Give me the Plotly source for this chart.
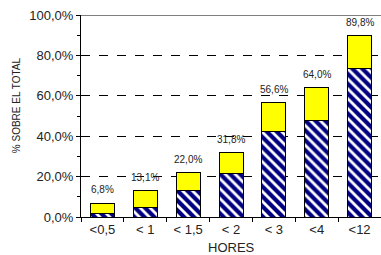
import plotly.graph_objects as go

categories = ["<0,5", "< 1", "< 1,5", "< 2", "< 3", "<4", "<12"]
totals = [6.8, 13.1, 22.0, 31.8, 56.6, 64.0, 89.8]
blue_part = [1.6, 4.6, 13.2, 21.7, 42.4, 47.9, 73.4]
yellow_part = [round(t - b, 1) for t, b in zip(totals, blue_part)]
total_labels = ["6,8%", "13,1%", "22,0%", "31,8%", "56,6%", "64,0%", "89,8%"]
y_tickvals = [0, 20, 40, 60, 80, 100]
y_ticktext = ["0,0%", "20,0%", "40,0%", "60,0%", "80,0%", "100,0%"]

FONT = "Liberation Sans, Arial"
TXT = "#222"

fig = go.Figure()
fig.add_trace(go.Bar(
    x=categories, y=blue_part,
    marker=dict(color="white", line=dict(color="black", width=1),
                pattern=dict(shape="\\", fgcolor="#000080", bgcolor="white", size=7,
                             solidity=0.6, fgopacity=1)),
    width=0.56, hoverinfo="skip",
))
fig.add_trace(go.Bar(
    x=categories, y=yellow_part,
    marker=dict(color="#FFFF00", line=dict(color="black", width=1)),
    width=0.56, hoverinfo="skip",
))

for c, t, lab in zip(categories, totals, total_labels):
    fig.add_annotation(x=c, y=t, text=lab, showarrow=False, yanchor="bottom", yshift=6,
                       font=dict(family=FONT, size=10, color=TXT))

fig.add_shape(type="line", xref="paper", yref="y", x0=0, x1=1, y0=100, y1=100,
              line=dict(color="black", width=1))

fig.add_annotation(xref="paper", yref="paper", x=0.5, y=-0.152, text="HORES", showarrow=False,
                   xanchor="center", yanchor="middle", font=dict(family=FONT, size=13, color=TXT))
fig.add_annotation(xref="paper", yref="paper", x=-0.217, y=0.553, text="% SOBRE EL TOTAL",
                   showarrow=False, textangle=-90, xanchor="center", yanchor="middle",
                   font=dict(family=FONT, size=10, color=TXT))

fig.update_layout(
    barmode="stack",
    width=381, height=255,
    margin=dict(l=81, r=0, t=15, b=38),
    plot_bgcolor="white", paper_bgcolor="white",
    showlegend=False,
    font=dict(family=FONT, color=TXT),
    xaxis=dict(
        type="category", tickson="boundaries", ticks="outside", ticklen=4, tickcolor="black",
        showline=True, linecolor="black", linewidth=1,
        tickfont=dict(size=13, color=TXT),
        showgrid=False, automargin=False,
    ),
    yaxis=dict(
        range=[0, 100], tickvals=y_tickvals, ticktext=y_ticktext,
        ticks="outside", ticklen=4, tickcolor="black",
        minor=dict(dtick=10, ticks="outside", ticklen=3, tickcolor="black", showgrid=False),
        showline=True, linecolor="black", linewidth=1,
        showgrid=True, gridcolor="black", griddash="dash", gridwidth=1,
        zeroline=False, automargin=False,
        tickfont=dict(size=13, color=TXT),
    ),
)

fig.write_html("out.html", config={"displayModeBar": False},
               post_script="document.body.style.margin='0';document.body.style.padding='0';")
